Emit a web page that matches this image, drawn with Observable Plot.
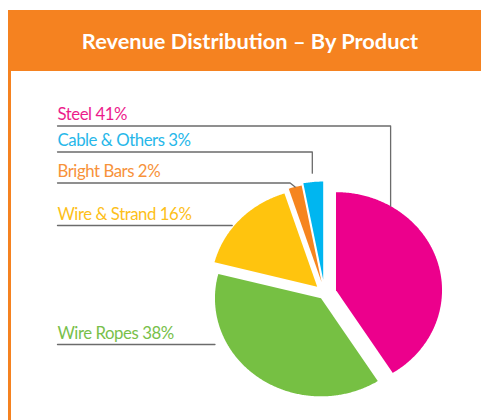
<!DOCTYPE html>
<html><head><meta charset="utf-8">
<script src="https://cdn.jsdelivr.net/npm/d3@7"></script>
<script src="https://cdn.jsdelivr.net/npm/@observablehq/plot@0.6"></script>
<style>
html,body{margin:0;padding:0;background:#fff;}
#wrap{position:relative;width:481px;height:420px;overflow:hidden;}
#hdr{position:absolute;left:8px;top:10px;width:473px;height:61px;background:#F58220;color:#fff;font-family:Lato,sans-serif;font-weight:700;font-size:21.8px;display:flex;align-items:center;justify-content:center;padding-left:11px;padding-bottom:1px;box-sizing:border-box;}
#bar{position:absolute;left:8px;top:71px;width:2.5px;height:349px;background:#F58220;}
#chart{position:absolute;left:0;top:71px;}
</style></head><body>
<div id="wrap"><div id="hdr">Revenue Distribution – By Product</div><div id="chart"></div><div id="bar"></div></div>
<script>
// ---- data ----
const products = ["Steel", "Wire Ropes", "Wire & Strand", "Bright Bars", "Cable & Others"];
const shares = [41, 38, 16, 2, 3];
const sliceColors = ["#EC008C", "#76C043", "#FFC40E", "#F6851F", "#00B6F0"];
const labelColors = ["#EC1C8C", "#78C04A", "#FDC01A", "#F7923A", "#27B7E9"];

// ---- layout (page pixels) ----
const W = 481, TOP = 71, H = 420 - TOP;
const CENTER = [324, 293], RX = 106, RY = 98;
const EXPLODE = [12, 6, 10, 12, 14];
const TEXT_X = 57;
// leader config per product: row of the underline, kind, where on the slice it ends
const LEADERS = [
  {row: 125.5, kind: "elbow", at: 0.21, r: 1.0},
  {row: 344, kind: "flat", at: 0.895, r: 1.0},
  {row: 225, kind: "flat", at: 0.5, r: 1.1},
  {row: 182.5, kind: "diag", at: 0.5, r: 1.0},
  {row: 151.5, kind: "elbow", at: 0.5, r: 1.09}
];

const rows = products.map((p, i) => ({name: p, share: shares[i], i}));
const arcs = d3.pie().sort(null).value(d => d.share).startAngle(0).endAngle(2 * Math.PI)(rows);

function origin(a, i) {
  const b = (a.startAngle + a.endAngle) / 2;
  return [CENTER[0] + EXPLODE[i] * Math.sin(b), CENTER[1] - EXPLODE[i] * Math.cos(b)];
}
function pt(a, i, t, r) {
  const [ox, oy] = origin(a, i);
  const ang = a.startAngle + t * (a.endAngle - a.startAngle);
  return [ox + RX * r * Math.sin(ang), oy - RY * r * Math.cos(ang)];
}

const slicePts = [];
arcs.forEach((a, i) => {
  const [ox, oy] = origin(a, i);
  slicePts.push({name: a.data.name, x: ox, y: oy});
  const n = Math.max(4, Math.ceil((a.endAngle - a.startAngle) / 0.01));
  for (let k = 0; k <= n; k++) {
    const [x, y] = pt(a, i, k / n, 1);
    slicePts.push({name: a.data.name, x, y});
  }
});

const leaderPts = [];
const labels = [];
arcs.forEach((a, i) => {
  const L = LEADERS[i];
  const [px, py] = pt(a, i, L.at, L.r);
  const nm = a.data.name;
  leaderPts.push({name: nm, x: TEXT_X, y: L.row});
  if (L.kind === "elbow") {
    leaderPts.push({name: nm, x: px, y: L.row});
    leaderPts.push({name: nm, x: px, y: py});
  } else if (L.kind === "diag") {
    leaderPts.push({name: nm, x: px - 5, y: L.row});
    leaderPts.push({name: nm, x: px, y: py});
  } else {
    leaderPts.push({name: nm, x: px, y: L.row});
  }
  labels.push({name: nm, text: `${nm} ${a.data.share}%`, x: TEXT_X, y: L.row - 6});
});

const chart = Plot.plot({
  width: W, height: H,
  margin: 0,
  x: {domain: [0, W], range: [0, W], axis: null},
  y: {domain: [TOP, TOP + H], range: [0, H], axis: null},
  color: {domain: products, range: sliceColors},
  style: {background: "transparent"},
  marks: [
    Plot.line(slicePts, {x: "x", y: "y", z: "name", fill: "name", stroke: "none", curve: "linear-closed"}),
    Plot.line(leaderPts, {x: "x", y: "y", z: "name", stroke: "#6b6b6b", strokeWidth: 1.3}),
    Plot.text(labels, {x: "x", y: "y", text: "text", textAnchor: "start", lineAnchor: "bottom",
      fill: d => labelColors[products.indexOf(d.name)],
      fontSize: 16.8, fontFamily: "Lato, sans-serif", fontWeight: 400})
  ]
});
chart.querySelectorAll("text").forEach(t => t.setAttribute("letter-spacing", "-0.45"));
document.getElementById("chart").appendChild(chart);
</script>
</body></html>
